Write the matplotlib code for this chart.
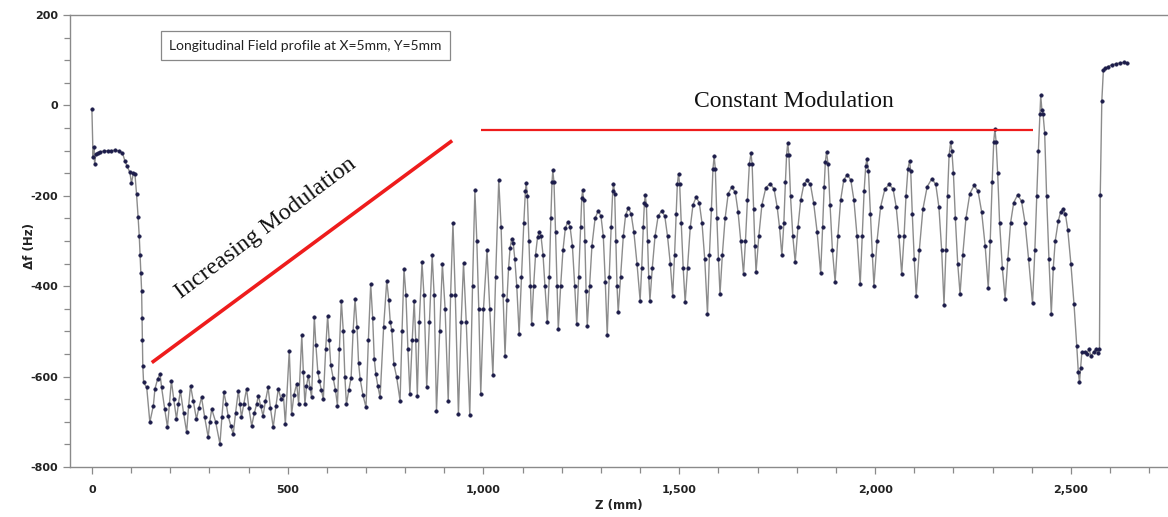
import matplotlib
matplotlib.use("Agg")
import matplotlib.pyplot as plt
from matplotlib.ticker import MultipleLocator, FuncFormatter

# ---------------- data ----------------
z_mm = [
    0, 3, 5, 7, 10, 15, 20, 30, 40, 50, 60, 70, 78, 84, 90, 97, 101, 106, 110,
    114, 118, 121, 123, 125, 127, 128, 129, 130, 132, 140,
    148, 157, 161, 168, 174, 178, 186, 193, 198, 203, 209, 216, 221, 226, 234,
    242, 247, 252, 259, 267, 273, 280, 288, 297, 301, 306, 316, 327, 332, 337,
    343, 348, 355, 361, 367, 374, 378, 382, 388, 395, 401, 408, 415, 421, 425,
    431, 437, 443, 450, 456, 463, 470, 476, 483, 489, 494,
    504, 510, 516, 523, 528, 536, 540, 544, 548, 553, 557, 561, 568, 572, 577,
    581, 586, 591, 597, 602, 606, 610, 616, 622, 627, 632, 637, 642, 646, 650,
    656, 662, 667, 672, 677, 681, 685, 692, 700, 706, 712, 717, 721, 725, 730,
    736, 745, 753, 758, 762, 766, 771, 778, 787, 792, 797, 802, 807, 812, 818,
    823, 827, 831,
    836, 843, 848, 855, 862, 869, 874, 880, 888, 895, 902, 910, 916, 922, 928,
    936, 943, 949, 956, 965, 972, 978, 983, 988, 993, 1000, 1009, 1016, 1024,
    1031, 1039, 1045, 1050, 1055,
    1060, 1064, 1068, 1072, 1076, 1080, 1085, 1091,
    1097, 1103, 1107, 1109, 1112, 1116, 1120, 1123,
    1128, 1133, 1138, 1142, 1147, 1152, 1157, 1163,
    1168, 1172, 1175, 1177, 1180, 1184, 1188, 1191,
    1197, 1203, 1209, 1215, 1221, 1227, 1233, 1238,
    1243, 1248, 1251, 1253, 1256, 1259, 1262, 1265,
    1271, 1277, 1285, 1293, 1300, 1306, 1311, 1316,
    1321, 1326, 1330, 1332, 1335, 1338, 1341, 1344,
    1350, 1357, 1363, 1370, 1377, 1384, 1392, 1400,
    1404, 1408, 1411, 1413, 1416, 1419, 1422, 1425,
    1431, 1438, 1446, 1455, 1463, 1470, 1477, 1483,
    1488, 1492, 1495, 1498, 1501, 1505, 1510, 1515,
    1521, 1528, 1535, 1543, 1551, 1558, 1565, 1572,
    1577, 1582, 1586, 1589, 1592, 1596, 1600, 1604,
    1610, 1617, 1625, 1634, 1643, 1650, 1657, 1664,
    1669, 1674, 1679, 1683, 1686, 1690, 1693, 1696,
    1703, 1711, 1721, 1732, 1742, 1750, 1756, 1762,
    1767, 1771, 1774, 1777, 1780, 1784, 1790, 1796,
    1803, 1810, 1818, 1826, 1835, 1843, 1852, 1861,
    1866, 1870, 1873, 1876, 1880, 1885, 1891, 1898,
    1905, 1912, 1920, 1929, 1938, 1946, 1954, 1962,
    1967, 1972, 1976, 1979, 1983, 1988, 1993, 1997,
    2005, 2014, 2025, 2036, 2046, 2054, 2061, 2068,
    2074, 2079, 2084, 2088, 2091, 2095, 2100, 2105,
    2113, 2122, 2133, 2145, 2155, 2163, 2170, 2176,
    2181, 2185, 2189, 2193, 2196, 2200, 2205, 2211, 2217,
    2224, 2232, 2242, 2253, 2263, 2272, 2281, 2289,
    2294, 2299, 2303, 2306, 2309, 2313, 2318, 2325, 2332,
    2339, 2346, 2354, 2364, 2374, 2383, 2392, 2402,
    2408, 2413, 2417, 2421, 2423, 2426, 2429, 2433, 2438, 2444, 2450,
    2455, 2460, 2468, 2474, 2480, 2486, 2492, 2500, 2508, 2515, 2519, 2522,
    2525, 2528, 2535, 2540, 2546, 2552, 2558, 2564, 2570, 2573,
    2575, 2579, 2583, 2588, 2595, 2605, 2615, 2625, 2635, 2644,
]
df_hz = [
    -8, -115, -92, -130, -108, -105, -103, -101, -100, -100, -99, -101, -105,
    -122, -135, -148, -172, -150, -152,
    -196, -247, -290, -330, -370, -410, -470, -520, -576, -613, -624,
    -701, -664, -627, -605, -594, -624, -672, -712, -660, -609, -650, -694,
    -660, -631, -680, -723, -665, -620, -655, -694, -670, -646, -690, -734,
    -700, -672, -700, -749, -690, -635, -660, -687, -710, -727, -680, -631,
    -660, -690, -660, -627, -670, -709, -680, -660, -642, -665, -687, -655,
    -624, -670, -712, -665, -627, -650, -640, -705,
    -543, -683, -640, -616, -660, -509, -590, -661, -620, -598, -625, -646,
    -469, -530, -590, -609, -630, -650, -540, -465, -520, -575, -602, -630,
    -664, -540, -432, -500, -600, -661, -630, -602, -500, -428, -490, -570,
    -605, -640, -668, -520, -395, -470, -560, -594, -620, -646, -490, -388,
    -430, -480, -498, -572, -600, -653, -500, -362, -420, -540, -638, -520,
    -432, -520, -642,
    -480, -347, -420, -624, -480, -332, -420, -675, -500, -351, -450, -655,
    -420, -260, -420, -683, -480, -349, -480, -685, -400, -188, -300, -450,
    -638, -450, -321, -450, -596, -380, -165, -270, -420, -554,
    -430, -360, -315, -295, -305, -340, -400, -506,
    -380, -260, -190, -172, -200, -300, -400, -484,
    -400, -330, -292, -281, -290, -330, -400, -480,
    -380, -250, -170, -144, -170, -280, -400, -495,
    -400, -320, -272, -258, -268, -310, -400, -484,
    -380, -270, -205, -188, -210, -300, -410, -487,
    -400, -310, -250, -233, -245, -290, -390, -509,
    -380, -270, -190, -173, -195, -300, -400, -458,
    -380, -290, -242, -227, -240, -280, -350, -432,
    -360, -270, -215, -199, -220, -300, -380, -432,
    -360, -290, -245, -233, -245, -290, -350, -421,
    -330, -240, -175, -151, -175, -260, -360, -436,
    -360, -270, -220, -203, -215, -260, -340, -461,
    -330, -230, -140, -113, -140, -250, -340, -417,
    -330, -250, -195, -181, -192, -235, -300, -373,
    -300, -210, -130, -106, -130, -230, -310, -369,
    -290, -220, -182, -173, -185, -225, -270, -332,
    -260, -170, -110, -83, -110, -200, -290, -347,
    -270, -210, -175, -166, -175, -215, -280, -371,
    -270, -180, -125, -103, -130, -220, -320, -391,
    -290, -210, -165, -153, -165, -210, -290, -396,
    -290, -190, -135, -118, -145, -240, -330, -399,
    -300, -225, -185, -175, -185, -225, -290, -373,
    -290, -200, -140, -123, -145, -240, -340, -421,
    -320, -230, -180, -162, -175, -225, -320, -441,
    -320, -200, -110, -81, -100, -150, -250, -350, -417,
    -330, -250, -195, -177, -190, -235, -310, -404,
    -300, -170, -80, -52, -80, -150, -260, -360, -428,
    -340, -260, -215, -198, -212, -260, -340, -438,
    -320, -200, -100, -20, 22, -10, -20, -60, -200, -340, -461,
    -360, -300, -255, -235, -229, -240, -275, -350, -440, -532, -590, -613,
    -580, -546, -545, -550, -540, -555, -545, -540, -548, -540,
    -199, 10, 78, 82, 86, 90, 92, 94, 95, 93,
]

legend_text = "Longitudinal Field profile at X=5mm, Y=5mm"
label_increasing = "Increasing Modulation"
label_constant = "Constant Modulation"
red_line_1_z = [153, 920]
red_line_1_df = [-569, -78]
red_line_2_z = [994, 2404]
red_line_2_df = [-55, -55]

# ---------------- figure ----------------
fig = plt.figure(figsize=(11.68, 5.17), dpi=100)
ax = fig.add_axes([0.0599, 0.0967, 0.9401, 0.8743])

ax.plot(z_mm, df_hz, color="#8c8c8c", lw=1.0, zorder=2)
ax.plot(z_mm, df_hz, ls="none", marker="o", ms=2.6, mfc="#1c1c4a",
        mec="#1c1c4a", mew=0.3, zorder=3)

ax.plot(red_line_1_z, red_line_1_df, color="#ee1c1c", lw=2.6, zorder=4,
        solid_capstyle="butt")
ax.plot(red_line_2_z, red_line_2_df, color="#ee1c1c", lw=1.6, zorder=4,
        solid_capstyle="butt")

ax.text(443, -272, label_increasing, rotation=37, rotation_mode="anchor",
        ha="center", va="center", family="Liberation Serif", fontsize=17.5,
        color="#111111")
ax.text(1793, 9, label_constant, ha="center", va="center",
        family="Liberation Serif", fontsize=17, color="#111111")

ax.text(0.0905, 0.932, legend_text, transform=ax.transAxes, ha="left",
        va="center", family="Lato", fontsize=10, color="#222222",
        bbox=dict(boxstyle="square,pad=0.6", fc="white", ec="#888888", lw=0.9))

ax.set_xlim(-56, 2748)
ax.set_ylim(-800, 200)

ax.xaxis.set_major_locator(MultipleLocator(500))
ax.xaxis.set_minor_locator(MultipleLocator(100))
ax.yaxis.set_major_locator(MultipleLocator(200))
ax.yaxis.set_minor_locator(MultipleLocator(50))
ax.xaxis.set_major_formatter(FuncFormatter(lambda v, p: f"{int(v):,}"))
ax.yaxis.set_major_formatter(FuncFormatter(lambda v, p: f"{int(v)}"))

for side in ["left", "bottom", "top"]:
    ax.spines[side].set_color("#8a8a8a")
    ax.spines[side].set_linewidth(1.0)
ax.spines["right"].set_visible(False)

ax.tick_params(axis="both", which="both", direction="out", color="#8a8a8a",
               width=0.9)
ax.tick_params(axis="both", which="major", length=5)
ax.tick_params(axis="both", which="minor", length=4)
ax.tick_params(axis="x", which="both", top=False)
for lab in ax.get_xticklabels() + ax.get_yticklabels():
    lab.set_fontfamily("DejaVu Sans")
    lab.set_fontweight("bold")
    lab.set_fontsize(8)
    lab.set_color("#222222")
ax.tick_params(axis="x", pad=8)

ax.set_xlabel("Z (mm)", family="DejaVu Sans", fontweight="bold", fontsize=8.5,
              color="#222222", labelpad=3)
ax.set_ylabel("\u0394f (Hz)", family="DejaVu Sans", fontweight="bold",
              fontsize=8.5, color="#222222")
ax.yaxis.set_label_coords(-0.031, 0.49)

fig.savefig("out.png", dpi=100)
